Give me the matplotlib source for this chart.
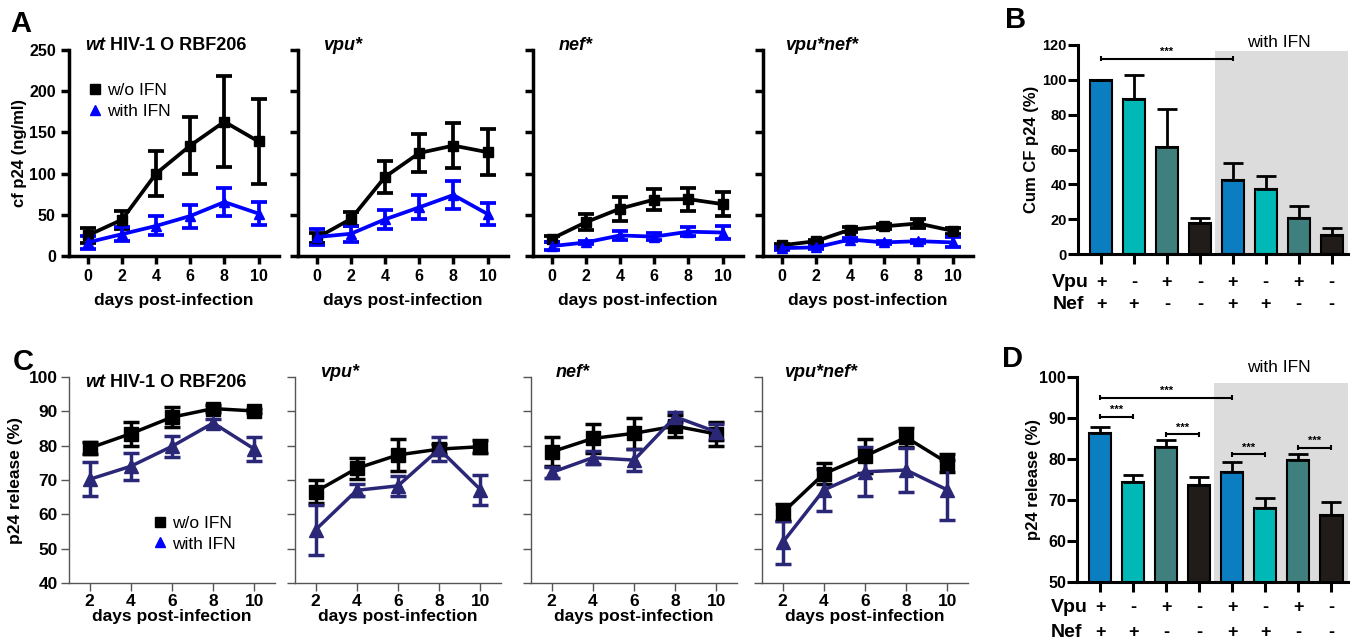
import numpy as np
import matplotlib
matplotlib.use("Agg")
import matplotlib.pyplot as plt
import matplotlib.transforms as mtransforms
from matplotlib.lines import Line2D

plt.rcParams['font.family'] = ['Liberation Sans', 'DejaVu Sans']
plt.rcParams['font.weight'] = 'bold'
plt.rcParams['axes.labelweight'] = 'bold'

days_a = [0, 2, 4, 6, 8, 10]
days_c = [2, 4, 6, 8, 10]
virus = ["wt", "vpu*", "nef*", "vpu*nef*"]

# A : cf p24 (ng/ml), mean and error per virus
a_mean = [[25, 44, 100, 134, 163, 139],
          [22, 45, 96, 125, 134, 126],
          [21, 41, 57.5, 68.5, 69, 63],
          [13, 18, 32, 36, 39.5, 30.5]]
a_err = [[9, 11, 27, 35, 55, 52],
         [6, 9, 19, 23, 27.5, 28],
         [3.5, 9.5, 14.5, 12.5, 14, 15],
         [2, 2, 3, 3, 5.5, 4]]
a_ifn_mean = [[16.5, 26.5, 36.5, 48.5, 65.5, 51.5],
              [23, 27, 44.5, 59, 74, 51],
              [12, 16.5, 25, 23.5, 29.5, 28.5],
              [9.5, 10.5, 20, 16.5, 18, 16.5]]
a_ifn_err = [[8, 8.5, 11.5, 14, 17, 13.5],
             [10, 10, 11.5, 14.5, 17.5, 13],
             [5, 2, 5, 4, 5.5, 8],
             [2, 2, 2, 2, 2, 6]]

# C : p24 release (%)
c_mean = [[79.3, 83.5, 88.3, 90.8, 90.1],
          [66.6, 73.4, 77.3, 79, 79.7],
          [78.2, 82.1, 83.6, 85.7, 83.4],
          [60.5, 71.8, 77, 82.4, 75]]
c_err = [[1.7, 3.5, 3, 1, 0.7],
         [3.4, 3, 4.7, 1.5, 1.9],
         [4.2, 4.3, 4.5, 3.2, 3.6],
         [2.4, 3.1, 5, 2.8, 2.7]]
c_ifn_mean = [[70.2, 74, 79.8, 86.6, 79],
              [55.5, 67, 68.3, 79, 67.2],
              [72.2, 76.5, 75.8, 88.4, 84],
              [51.8, 67.1, 72.4, 72.9, 67.1]]
c_ifn_err = [[5, 4, 3, 1.2, 3.5],
             [7.3, 1.7, 3, 3.4, 4.4],
             [1.5, 1.9, 3.2, 1.4, 2.3],
             [6.3, 6, 7.2, 6.4, 8.8]]

# B, D : bars, 4 without IFN then 4 with IFN
vpu = ["+", "-", "+", "-", "+", "-", "+", "-"]
nef = ["+", "+", "-", "-", "+", "+", "-", "-"]
b_mean = [100, 89, 61.6, 18, 42.5, 37.3, 20.5, 10.7]
b_err = [0, 13.8, 21.7, 2.5, 9.5, 7.5, 7.3, 4]
d_mean = [86.3, 74.3, 82.9, 73.7, 76.8, 68, 79.8, 66.4]
d_err = [1.4, 1.9, 1.8, 1.8, 2.4, 2.4, 1.4, 3.2]
bar_colors = ["#0b7ec1", "#00b8b6", "#3f807e", "#211c19"] * 2
b_sig = [(0, 4, 112)]
d_sig = [(0, 4, 95), (0, 1, 90.3), (2, 3, 86), (4, 5, 81.2), (6, 7, 82.7)]

W, H = 1354, 638
fig = plt.figure(figsize=(W / 100, H / 100), dpi=100)

def px_axes(l, t, r, b):     # pixel box -> figure axes
    return fig.add_axes([l / W, 1 - b / H, (r - l) / W, (b - t) / H])

def style_axes(ax, lw, color='k', length=6):
    for s in ['top', 'right']:
        ax.spines[s].set_visible(False)
    for s in ['left', 'bottom']:
        ax.spines[s].set_linewidth(lw)
        ax.spines[s].set_color(color)
    ax.tick_params(width=lw, length=length, color=color, direction='out')

def panel_title(ax, name, x, y, size):
    if name == "wt":
        t = ax.text(x, y, "wt", style='italic', fontsize=size, transform=ax.transAxes)
        ax.annotate(" HIV-1 O RBF206", xy=(1, 0), xycoords=t, va='bottom', fontsize=size)
    else:
        ax.text(x, y, name, style='italic', fontsize=size, transform=ax.transAxes)

def legend_handles(ms):
    return [Line2D([], [], ls='none', marker='s', color='k', ms=ms),
            Line2D([], [], ls='none', marker='^', color='#0000ff', ms=ms)]

# ---- row A
a_left = [69, 298, 533, 763]
a_tx = [0.076, 0.12, 0.12, 0.105]
for i, l in enumerate(a_left):
    ax = px_axes(l, 50, l + 210, 256)
    ax.errorbar(days_a, a_mean[i], yerr=a_err[i], color='k', marker='s', ms=7,
                lw=2.7, elinewidth=2.7, capsize=6, capthick=2.7)
    ax.errorbar(days_a, a_ifn_mean[i], yerr=a_ifn_err[i], color='#0000ff', marker='^', ms=7,
                lw=2.7, elinewidth=2.7, capsize=6, capthick=2.7)
    ax.set_xlim(-1.1, 11.2)
    ax.set_ylim(0, 250)
    ax.set_xticks(days_a)
    ax.set_yticks(range(0, 251, 50))
    style_axes(ax, 2.5)
    ax.tick_params(labelsize=11.5)
    ax.set_xlabel("days post-infection", fontsize=12.5, labelpad=6)
    panel_title(ax, virus[i], a_tx[i], 1.0, 13)
    if i == 0:
        ax.set_ylabel("cf p24 (ng/ml)", fontsize=12)
        ax.yaxis.set_label_coords(-0.2, 0.5)
        ax.legend(legend_handles(6.5), ["w/o IFN", "with IFN"], loc='upper left',
                  bbox_to_anchor=(0.09, 0.84), frameon=False, borderpad=0, borderaxespad=0,
                  handlelength=0.8, handletextpad=0.3, labelspacing=0.35,
                  prop=dict(weight='normal', size=12.5))
    else:
        ax.tick_params(labelleft=False)

# ---- row C
c_left = [69, 295, 531, 762]
c_ty = [0.95, 1.0, 1.0, 1.0]
navy = '#2b2777'
for i, l in enumerate(c_left):
    ax = px_axes(l, 377, l + 206, 583)
    ax.errorbar(days_c, c_mean[i], yerr=c_err[i], color='k', marker='s', ms=10,
                lw=2.5, elinewidth=2.5, capsize=6, capthick=2.5)
    ax.errorbar(days_c, c_ifn_mean[i], yerr=c_ifn_err[i], color=navy, marker='^', ms=10,
                lw=2.5, elinewidth=2.5, capsize=6, capthick=2.5)
    ax.set_xlim(1, 11)
    ax.set_ylim(40, 100)
    ax.set_xticks(days_c)
    ax.set_yticks(range(40, 101, 10))
    style_axes(ax, 1, '#555555', 6)
    ax.tick_params(labelsize=12.5, pad=2)
    ax.set_xlabel("days post-infection", fontsize=12.5, labelpad=0)
    panel_title(ax, virus[i], a_tx[i], c_ty[i], 13)
    if i == 0:
        ax.set_ylabel("p24 release (%)", fontsize=12.5)
        ax.yaxis.set_label_coords(-0.223, 0.5)
        ax.legend(legend_handles(6.5), ["w/o IFN", "with IFN"], loc='upper left',
                  bbox_to_anchor=(0.408, 0.325), frameon=False, borderpad=0, borderaxespad=0,
                  handlelength=0.8, handletextpad=0.3, labelspacing=0.3,
                  prop=dict(weight='normal', size=12.5))
    else:
        ax.tick_params(labelleft=False)

# ---- bar panels B and D
def bar_panel(ax, mean, err, sig, ylim, yticks, ylabel, ifn_y, row_y, tick_size):
    x = np.arange(len(mean))
    ax.axvspan(3.45, 7.6, ymin=0, ymax=0.97, color='#dcdcdc', lw=0, zorder=0)
    ax.bar(x, mean, width=0.67, color=bar_colors, edgecolor='k', lw=1.5, zorder=2)
    ax.errorbar(x, mean, yerr=[np.zeros(len(err)), err], fmt='none', ecolor='k',
                elinewidth=2, capsize=7, capthick=2, zorder=3)
    ax.set_xlim(-0.7, 7.5)
    ax.set_ylim(*ylim)
    ax.set_yticks(yticks)
    ax.set_xticks(x)
    ax.set_xticklabels([])
    style_axes(ax, 2.2, 'k', 7)
    ax.tick_params(axis='y', labelsize=tick_size, pad=1)
    ax.set_ylabel(ylabel, fontsize=12)
    rng = ylim[1] - ylim[0]
    for x0, x1, y in sig:
        ax.hlines(y, x0, x1, color='k', lw=1.5, zorder=4)
        ax.vlines([x0, x1], y - rng * 0.012, y + rng * 0.012, color='k', lw=1.5, zorder=4)
        ax.text((x0 + x1) / 2, y + rng * 0.008, "***", ha='center', va='bottom', fontsize=8)
    tr = mtransforms.blended_transform_factory(ax.transData, ax.transAxes)
    ax.text(5.4, ifn_y, "with IFN", ha='center', va='center', fontsize=12.5,
            weight='normal', transform=tr)
    for name, signs, yy in [("Vpu", vpu, row_y[0]), ("Nef", nef, row_y[1])]:
        ax.text(-1.48, yy, name, ha='left', va='center', fontsize=14, transform=tr, clip_on=False)
        for xi, s in zip(x, signs):
            ax.text(xi, yy, s, ha='center', va='center', fontsize=13, transform=tr, clip_on=False)

axb = px_axes(1078, 45, 1348, 254)
bar_panel(axb, b_mean, b_err, b_sig, (0, 120), range(0, 121, 20), "Cum CF p24 (%)",
          1.014, (-0.134, -0.244), 10.5)
axb.yaxis.set_label_coords(-0.144, 0.5)

axd = px_axes(1077, 377, 1348, 582)
bar_panel(axd, d_mean, d_err, d_sig, (50, 100), range(50, 101, 10), "p24 release (%)",
          1.044, (-0.122, -0.244), 11.5)
axd.yaxis.set_label_coords(-0.133, 0.5)

# panel letters
for letter, x, y in [("A", 10, 32), ("B", 1005, 28), ("C", 13, 370), ("D", 1002, 367)]:
    fig.text(x / W, 1 - y / H, letter, fontsize=21, va='baseline')

fig.savefig("out.png", dpi=100)
